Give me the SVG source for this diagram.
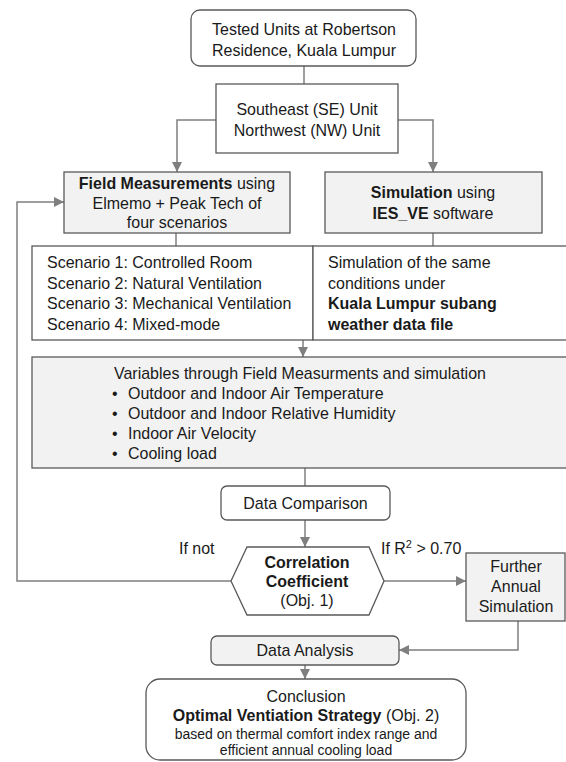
<svg xmlns="http://www.w3.org/2000/svg" width="566" height="762" viewBox="0 0 566 762">
<defs>
<marker id="arr" viewBox="0 0 10 10" refX="10" refY="5" markerWidth="10" markerHeight="10" markerUnits="userSpaceOnUse" orient="auto">
<path d="M0,0 L10,5 L0,10 z" fill="#7f7f7f"/>
</marker>
<style>
.box{stroke:#595959;stroke-width:1.3;fill:#ffffff}
.gray{fill:#f2f2f2}
.t{font-family:"Liberation Sans",Arial,sans-serif;font-size:16px;fill:#1a1a1a}
.s{font-size:14px}
.c{text-anchor:middle}
.b{font-weight:bold}
.ln{fill:none;stroke:#7f7f7f;stroke-width:1.5}
</style>
</defs>
<rect width="566" height="762" fill="#ffffff"/>
<g id="connectors">
<path class="ln" d="M304,66 V84"/>
<path class="ln" d="M216,120 H177 V172" marker-end="url(#arr)"/>
<path class="ln" d="M398,120 H433 V172" marker-end="url(#arr)"/>
<path class="ln" d="M176,233 V246"/>
<path class="ln" d="M433,233 V246"/>
<path class="ln" d="M303,340 V357" marker-end="url(#arr)"/>
<path class="ln" d="M305,468 V486"/>
<path class="ln" d="M305,520 V547" marker-end="url(#arr)"/>
<path class="ln" d="M231,581 H17 V202 H64" marker-end="url(#arr)"/>
<path class="ln" d="M384,581 H466" marker-end="url(#arr)"/>
<path class="ln" d="M518,621 V650 H399" marker-end="url(#arr)"/>
<path class="ln" d="M305,665 V679" marker-end="url(#arr)"/>
</g>
<g id="tested">
<rect class="box" x="191" y="10" width="225" height="56" rx="9"/>
<text class="t c" transform="translate(304,35) scale(1,1.06)">Tested Units at Robertson</text>
<text class="t c" transform="translate(304,56) scale(1,1.06)">Residence, Kuala Lumpur</text>
</g>
<g id="units">
<rect class="box" x="216" y="84" width="182" height="69"/>
<text class="t c" transform="translate(307,115) scale(1,1.06)">Southeast (SE) Unit</text>
<text class="t c" transform="translate(307,136) scale(1,1.06)">Northwest (NW) Unit</text>
</g>
<g id="field">
<rect class="box gray" x="64" y="172" width="226" height="61"/>
<text class="t c" transform="translate(177,189) scale(1,1.06)"><tspan class="b">Field Measurements</tspan> using</text>
<text class="t c" transform="translate(177,208.5) scale(1,1.06)">Elmemo + Peak Tech of</text>
<text class="t c" transform="translate(177,228) scale(1,1.06)">four scenarios</text>
</g>
<g id="simulation">
<rect class="box gray" x="325" y="172" width="217" height="61"/>
<text class="t c" transform="translate(433,198) scale(1,1.06)"><tspan class="b">Simulation</tspan> using</text>
<text class="t c" transform="translate(433,218.5) scale(1,1.06)"><tspan class="b">IES_VE</tspan> software</text>
</g>
<g id="scenarios">
<rect class="box" x="32" y="246" width="281" height="94"/>
<text class="t" transform="translate(47,268) scale(1,1.06)">Scenario 1: Controlled Room</text>
<text class="t" transform="translate(47,288.5) scale(1,1.06)">Scenario 2: Natural Ventilation</text>
<text class="t" transform="translate(47,309) scale(1,1.06)">Scenario 3: Mechanical Ventilation</text>
<text class="t" transform="translate(47,329.5) scale(1,1.06)">Scenario 4: Mixed-mode</text>
</g>
<g id="conditions">
<rect class="box" x="313" y="246" width="270" height="94"/>
<text class="t" transform="translate(328,268) scale(1,1.06)">Simulation of the same</text>
<text class="t" transform="translate(328,288.5) scale(1,1.06)">conditions under</text>
<text class="t b" transform="translate(328,309) scale(1,1.06)">Kuala Lumpur subang</text>
<text class="t b" transform="translate(328,329.5) scale(1,1.06)">weather data file</text>
</g>
<g id="variables">
<rect class="box gray" x="32" y="357" width="551" height="111"/>
<text class="t" transform="translate(114,379) scale(1,1.06)">Variables through Field Measurments and simulation</text>
<text class="t" transform="translate(112,399) scale(1,1.06)">•</text><text class="t" transform="translate(128,399) scale(1,1.06)">Outdoor and Indoor Air Temperature</text>
<text class="t" transform="translate(112,419) scale(1,1.06)">•</text><text class="t" transform="translate(128,419) scale(1,1.06)">Outdoor and Indoor Relative Humidity</text>
<text class="t" transform="translate(112,439) scale(1,1.06)">•</text><text class="t" transform="translate(128,439) scale(1,1.06)">Indoor Air Velocity</text>
<text class="t" transform="translate(112,459) scale(1,1.06)">•</text><text class="t" transform="translate(128,459) scale(1,1.06)">Cooling load</text>
</g>
<g id="comparison">
<rect class="box" x="221" y="486" width="169" height="34" rx="6"/>
<text class="t c" transform="translate(305.5,509) scale(1,1.06)">Data Comparison</text>
</g>
<g id="labels">
<text class="t" transform="translate(179,554) scale(1,1.06)">If not</text>
<text class="t" transform="translate(381,554) scale(1,1.06)">If R<tspan font-size="11" dy="-6">2</tspan><tspan dy="6"> &gt; 0.70</tspan></text>
</g>
<g id="correlation">
<polygon class="box" points="231,581 247,547 369,547 384,581 369,615 247,615"/>
<text class="t c b" transform="translate(307,568) scale(1,1.06)">Correlation</text>
<text class="t c b" transform="translate(307,587) scale(1,1.06)">Coefficient</text>
<text class="t c" transform="translate(307,606) scale(1,1.06)">(Obj. 1)</text>
</g>
<g id="further">
<rect class="box gray" x="466" y="553" width="99" height="68"/>
<text class="t c" transform="translate(516,572) scale(1,1.06)">Further</text>
<text class="t c" transform="translate(516,592) scale(1,1.06)">Annual</text>
<text class="t c" transform="translate(516,612) scale(1,1.06)">Simulation</text>
</g>
<g id="analysis">
<rect class="box gray" x="211" y="636" width="188" height="29" rx="6"/>
<text class="t c" transform="translate(305,656) scale(1,1.06)">Data Analysis</text>
</g>
<g id="conclusion">
<rect class="box" x="146" y="679" width="320" height="81" rx="14"/>
<text class="t c" transform="translate(306,702) scale(1,1.06)">Conclusion</text>
<text class="t c" transform="translate(306,721) scale(1,1.06)"><tspan class="b">Optimal Ventiation Strategy</tspan> (Obj. 2)</text>
<text class="t c s" transform="translate(306,739) scale(1,1.06)">based on thermal comfort index range and</text>
<text class="t c s" transform="translate(306,755) scale(1,1.06)">efficient annual cooling load</text>
</g>
</svg>
